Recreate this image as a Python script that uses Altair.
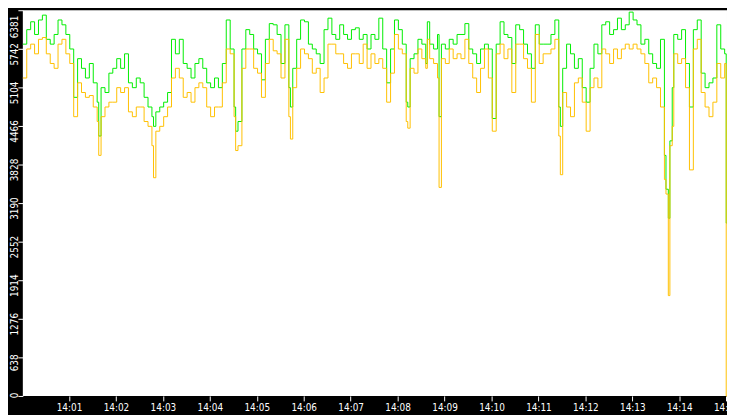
import altair as alt
import pandas as pd

# seconds after 14:00:01
secs = [0, 5, 10, 15, 20, 25, 30, 35, 40, 45, 50, 55, 60, 65, 70, 75, 80, 85, 90, 95,
        97,
        100, 105, 110, 115, 120, 125, 130, 135, 140, 145, 150, 155, 160, 165,
        167,
        170, 175, 180, 185, 190, 195, 200, 205, 210, 215, 220, 225, 230, 235, 240, 245, 250, 255, 260, 265, 270,
        272,
        275, 280, 285, 290, 295, 300, 305, 310, 315, 320, 325, 330, 335, 340,
        342,
        345, 350, 355, 360, 365, 370, 375, 380, 385, 390, 395, 400, 405, 410, 415, 420, 425, 430, 435, 440,
        445, 450, 455, 460, 465, 470, 475, 480, 485, 490,
        492,
        495, 500, 505, 510, 515,
        517,
        520, 525, 530,
        532,
        535, 540, 545, 550, 555, 560, 565, 570, 575, 580, 585, 590, 595, 600, 605, 610, 615, 620, 625, 630,
        635, 640, 645, 650, 655, 660, 665, 670, 675, 680, 685,
        687,
        690, 695, 700, 705, 710, 715, 720, 725, 730, 735, 740, 745, 750, 755, 760, 765, 770, 775, 780, 785,
        790, 795, 800, 805, 810, 815, 820,
        822, 825, 827, 830,
        832, 837, 842, 847, 852, 857, 862, 867, 872, 877, 882, 887, 892, 897,
        899, 900]

upper = [5820, 6060, 6190, 5980, 6220, 6300, 5900, 5820, 5980, 6220, 6140, 5980, 5740, 4940, 5580, 5420, 5260, 5500, 5180, 4860,
         4300,
         5100, 5020, 5340, 5420, 5580, 5420, 5660, 5180, 5100, 5260, 5180, 4940, 4780, 4620,
         4460,
         4700, 4780, 4860, 5020, 5900, 5660, 5900, 5500, 5420, 5260, 5500, 5580, 5420, 5180, 5100, 5260, 5100, 5500, 6220, 5740, 4780,
         4380,
         4540, 5740, 6060, 5980, 5740, 5660, 5230, 5900, 6160, 6140, 5980, 5500, 6140, 5100,
         4780,
         5420, 5900, 6220, 6190, 5820, 5740, 5660, 5500, 6060, 6250, 5980, 5900, 6140, 5980, 5900, 6060, 6090, 5900, 5980, 5740,
         5980, 5900, 6250, 5740, 5180, 5740, 6220, 6060, 5820, 4860,
         4780,
         5580, 5660, 5900, 5820, 5500,
         6190,
         5820, 5740, 5980,
         4620,
         5820, 5740, 5900, 5820, 5980, 5980, 6160, 5740, 5660, 5500, 5740, 5820, 5740, 4590, 5820, 6190, 5980, 5930, 5500, 6140,
         6060, 5820, 5660, 5420, 6140, 5820, 5820, 5820, 5980, 6220, 4780,
         4460,
         5420, 5820, 5660, 5420, 5580, 5100, 4860, 5420, 5820, 5660, 6140, 6190, 5980, 6060, 6250, 6060, 6140, 6350, 6220, 6140,
         5820, 5900, 5660, 5500, 5420, 5900, 3980,
         3420, 2940, 4220, 5100,
         5980, 5900, 6060, 5500, 4780, 6060, 6220, 5340, 5100, 5180, 5260, 6140, 5740, 5660,
         2860, 2860]

lower = [5260, 5740, 5820, 5660, 5900, 5930, 5660, 5500, 5420, 5820, 5900, 5660, 5500, 4620, 5180, 5020, 4940, 4970, 4780, 4540,
         3980,
         4620, 4780, 4860, 4860, 5100, 5020, 5100, 4700, 4620, 4780, 4780, 4540, 4460, 4140,
         3610,
         4380, 4460, 4620, 4780, 5260, 5420, 5260, 4940, 5020, 4860, 5100, 5180, 5100, 4780, 4620, 4780, 4780, 5180, 5740, 5660, 4620,
         4060,
         4140, 5420, 5740, 5740, 5420, 5340, 4940, 5500, 5900, 5710, 5660, 5260, 5900, 4620,
         4250,
         5100, 5420, 5740, 5660, 5580, 5340, 5420, 5020, 5260, 5820, 5820, 5660, 5660, 5500, 5420, 5660, 5660, 5500, 5820, 5420,
         5660, 5500, 5580, 5420, 4860, 5340, 5980, 5740, 5660, 4540,
         4430,
         5420, 5340, 5740, 5580, 5420,
         5900,
         5580, 5500, 5260,
         3450,
         5580, 5500, 5740, 5580, 5660, 5580, 5900, 5500, 5260, 5020, 5420, 5740, 5260, 4380, 5660, 5820, 5580, 5740, 5020, 5820,
         5820, 5580, 5420, 4860, 5980, 5500, 5660, 5660, 5740, 5900, 4300,
         3660,
         5020, 4780, 4620, 5180, 5260, 4860, 4380, 5100, 5260, 5100, 5740, 5660, 5500, 5740, 5580, 5740, 5820, 5740, 5820, 5740,
         5660, 5500, 5180, 5260, 5100, 4780, 3580,
         3340, 1660, 4140, 4460,
         5660, 5500, 5580, 5100, 3740, 5740, 5900, 5020, 4780, 4620, 4860, 5500, 5260, 5500,
         0, 0]

y_ticks = [0, 638, 1276, 1914, 2552, 3190, 3828, 4466, 5104, 5742, 6381]
x_ticks = ["14:01", "14:02", "14:03", "14:04", "14:05", "14:06", "14:07", "14:08",
           "14:09", "14:10", "14:11", "14:12", "14:13", "14:14", "14:15"]

start = pd.Timestamp("2024-01-01 14:00:01")
times = [(start + pd.Timedelta(seconds=s)).strftime("%Y-%m-%dT%H:%M:%SZ") for s in secs]
df = pd.DataFrame({"t": times, "hi": upper, "lo": lower})


def dt(hh, mm, ss=0):
    return alt.DateTime(year=2024, month=1, date=1, hours=hh, minutes=mm, seconds=ss, utc=True)


x_vals = [dt(int(s[:2]), int(s[3:])) for s in x_ticks]
FONT = "DejaVu Sans Condensed, DejaVu Sans"

x_enc = alt.X(
    "t:T",
    scale=alt.Scale(type="utc", domain=[dt(14, 0, 1), dt(14, 15, 1)]),
    axis=alt.Axis(values=x_vals, format="%H:%M", title=None, domain=False, grid=False,
                  tickColor="white", tickSize=5, labelColor="white", labelFont=FONT,
                  labelFontSize=10, labelPadding=2, labelFlush=False, labelOverlap=False),
)

y_axis = alt.Axis(
    values=y_ticks, format="d", title=None, domain=False, grid=False,
    tickColor="white", tickSize=5, labelColor="white", labelFont=FONT, labelFontSize=10,
    labelAngle=270, labelBaseline="alphabetic", labelPadding=0,
    labelFlush=False, labelOverlap=False,
    labelAlign={"condition": {"test": "datum.value > 6000", "value": "right"}, "value": "center"},
    labelOffset={"condition": {"test": "datum.value < 1", "value": -1}, "value": 5},
)
y_scale = alt.Scale(domain=[0, 6381], nice=False, zero=True)

base = alt.Chart(df)
green = base.mark_line(interpolate="step-after", color="#00ee00", strokeWidth=1).encode(
    x=x_enc, y=alt.Y("hi:Q", scale=y_scale, axis=y_axis)
)
yellow = base.mark_line(interpolate="step-after", color="#ffc000", strokeWidth=1).encode(
    x=x_enc, y=alt.Y("lo:Q", scale=y_scale, axis=y_axis)
)

chart = (
    alt.layer(green, yellow)
    .properties(
        width=712, height=390, background="black",
        padding={"left": 15, "top": 0, "right": 0, "bottom": 17},
        autosize=alt.AutoSizeParams(type="none"),
    )
    .configure_view(fill="white", strokeWidth=0)
)

chart.save("out.html", embed_options={"renderer": "svg", "actions": False})
